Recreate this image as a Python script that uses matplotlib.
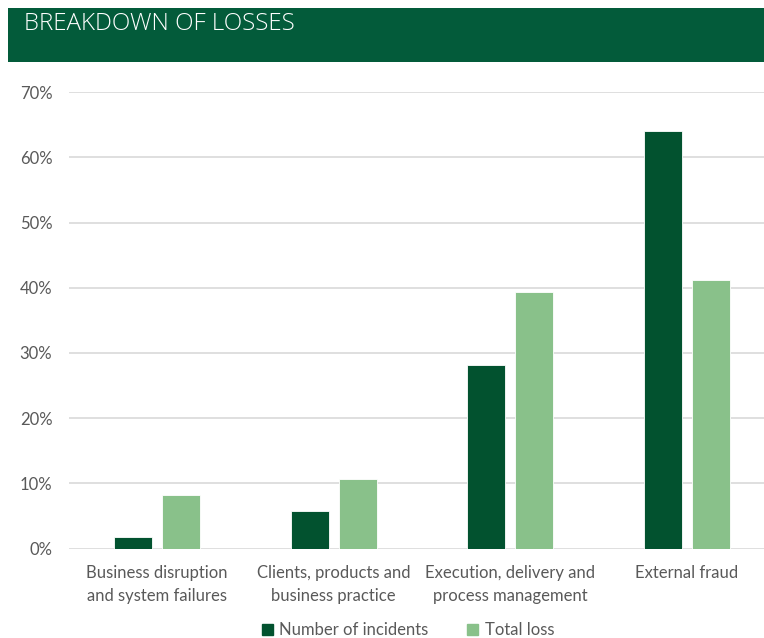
import matplotlib.pyplot as plt
import numpy as np
from matplotlib.patches import Rectangle, Patch

# Dati
categorie = ['Business disruption\nand system failures',
             'Clients, products and\nbusiness practice',
             'Execution, delivery and\nprocess management',
             'External fraud']
incidenti = [1.7, 5.8, 28.1, 64.1]
perdite = [8.2, 10.6, 39.4, 41.2]
serie = ['Number of incidents', 'Total loss']

verde_scuro = '#02522F'
verde_chiaro = '#89C18A'
grigio = '#595959'
font = 'Lato'

fig = plt.figure(figsize=(7.64, 6.38), dpi=100)

# Banda del titolo
fig.patches.append(Rectangle((8/764, 1-62/638), 1, 54/638, transform=fig.transFigure,
                             facecolor='#035B3A', edgecolor='none'))
fig.text(24/764, 1-24.5/638, 'BREAKDOWN OF LOSSES', color='white', fontsize=17.4,
         family='Open Sans', fontweight='light', va='center', ha='left')

ax = fig.add_axes([69/764, (638-548.5)/638, 706/764, 456.4/638])
x = np.arange(len(categorie))
w = 0.215
off = 0.135
ax.bar(x - off, incidenti, w, color=verde_scuro, edgecolor='white', linewidth=0.6, zorder=3)
ax.bar(x + off, perdite, w, color=verde_chiaro, edgecolor='white', linewidth=0.6, zorder=3)

ax.set_xlim(-0.5, 3.5)
ax.set_ylim(0, 70)
ax.set_yticks(range(0, 71, 10))
ax.set_yticklabels(['%d%%' % v for v in range(0, 71, 10)], family=font, fontsize=12, color=grigio)
ax.set_xticks(x)
ax.set_xticklabels(categorie, family=font, fontsize=12, color=grigio, linespacing=1.52)
ax.tick_params(axis='both', length=0)
ax.tick_params(axis='y', pad=12)
ax.tick_params(axis='x', pad=12)
ax.grid(axis='y', color='#D9D9D9', linewidth=1.2, zorder=0)
ax.set_axisbelow(True)
for s in ax.spines.values():
    s.set_visible(False)

handles = [Patch(color=verde_scuro), Patch(color=verde_chiaro)]
fig.legend(handles, serie, loc='center', bbox_to_anchor=(408/764, 1-630/638), ncol=2,
           frameon=False, prop={'family': font, 'size': 12}, labelcolor=grigio,
           handlelength=0.65, handleheight=0.65, handletextpad=0.4, columnspacing=2.3,
           borderpad=0)

fig.savefig('out.png', dpi=100)
